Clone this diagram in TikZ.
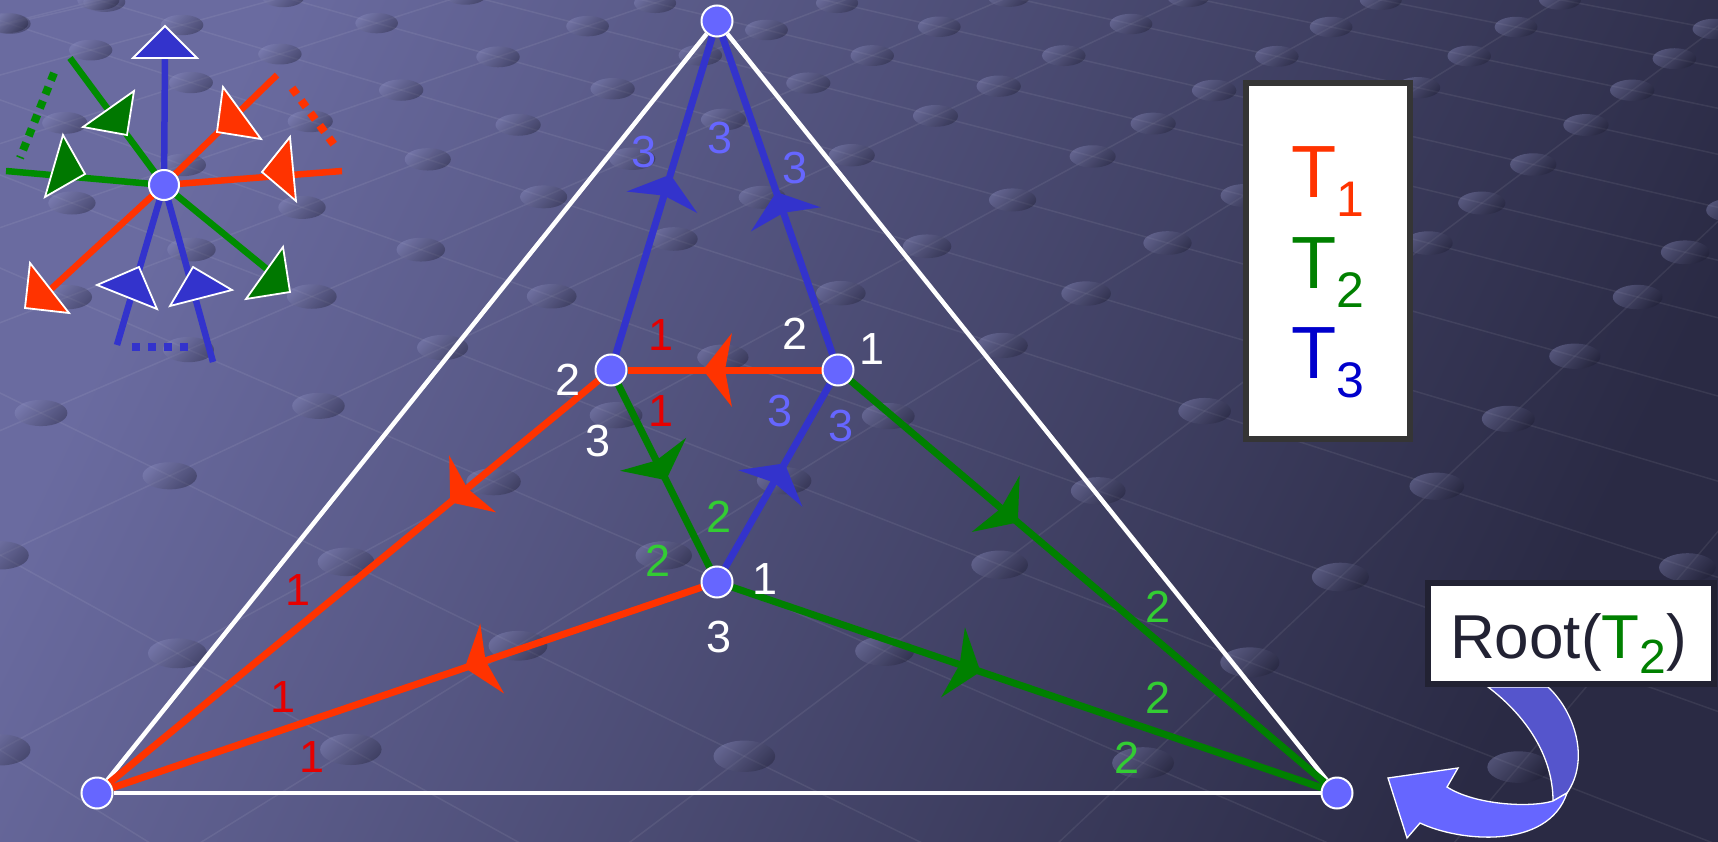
\documentclass[tikz,border=0pt]{standalone}
\usepackage{fontspec}
\setmainfont{Liberation Sans}
\usetikzlibrary{arrows.meta,decorations.markings,calc}
\pgfdeclarelayer{bglayer}
\pgfdeclarelayer{edgelayer}
\pgfsetlayers{bglayer,edgelayer,main}
\definecolor{bgTop}{RGB}{106,107,160}
\definecolor{bgBot}{RGB}{42,42,68}
\definecolor{tred}{HTML}{FF3300}
\definecolor{tgreen}{HTML}{008000}
\definecolor{tblue}{HTML}{3333CC}
\definecolor{nodeblue}{HTML}{6666FF}
\definecolor{lblred}{HTML}{E60000}
\definecolor{lblgreen}{HTML}{33CC33}
\definecolor{lblblue}{HTML}{6666FF}
\definecolor{legblue}{HTML}{0000CC}
\definecolor{sgreen}{HTML}{008C00}
\definecolor{striang}{HTML}{007800}
\definecolor{rootdark}{HTML}{222233}
\definecolor{legborder}{HTML}{353535}
\definecolor{arrowback}{HTML}{5555CC}
\definecolor{arrowfront}{HTML}{6666FF}
\definecolor{dotlight}{HTML}{8E90C2}
\definecolor{dotdark}{HTML}{1C1C30}
\begin{document}
\begin{tikzpicture}[x=1pt,y=-1pt,
  vtx/.style={circle,fill=nodeblue,draw=white,line width=2pt,minimum size=31pt,inner sep=0pt},
  tri/.style={draw=white,line width=1.8pt,line join=miter},
  trline/.style={line width=7pt},
  wline/.style={draw=white,line width=4.5pt},
  midarrow/.style={postaction={decorate},decoration={markings,mark=at position #1 with {\fill (0,0) -- (-29,37) -- (-22,0) -- (-29,-37) -- cycle;}}},
  lbl/.style={font=\fontsize{45}{45}\selectfont,inner sep=0pt},
  gridln/.style={draw=white,draw opacity=0.07,line width=1.5pt},
  dotsh/.style={opacity=0.38,top color=dotlight,bottom color=dotdark,shading angle=45},
  starln/.style={line width=6.5pt},
  sqline/.style={line width=8pt},
]
\useasboundingbox (0,0) rectangle (1718,842);

% ---------- background ----------
\begin{pgfonlayer}{bglayer}
\shade[top color=bgTop,bottom color=bgBot,shading angle=64] (0,0) rectangle (1718,842);
\begin{scope}
\clip (0,0) rectangle (1718,842);
\foreach \px/\py/\s in {1714/29/0.19,1516/27/0.20,1331/27/0.21,1131/24/0.222,837/3/0.232,655/3/0.242,587/26/0.258,610/88/0.278,182/25/0.297,7/23/0.324,65/123/0.356,72/203/0.39,67/297/0.433,41/413/0.488,0/555/0.554,0/750/0.62}{
  \draw[gridln] (-150,{\py+\s*(-150-\px)}) -- (1870,{\py+\s*(1870-\px)});
}
\foreach \px/\py/\s in {-70/42/-0.23,7/23/-0.25,182/25/-0.275,277/55/-0.32,655/3/-0.343,837/3/-0.382,941/26/-0.43,1131/24/-0.47,1331/27/-0.543,1516/27/-0.62,1714/29/-0.75,1143/763/-0.942,1687/568/-1.18}{
  \draw[gridln] (-250,{\py+\s*(-250-\px)}) -- (1950,{\py+\s*(1950-\px)});
}
\foreach \ax/\ay/\as in {1714/29/0.19,1516/27/0.20,1331/27/0.21,1131/24/0.222,837/3/0.232,655/3/0.242,587/26/0.258,610/88/0.278,182/25/0.297,7/23/0.324,65/123/0.356,72/203/0.39,67/297/0.433,41/413/0.488,0/555/0.554,0/750/0.62}{
 \foreach \bx/\by/\bs in {-70/42/-0.23,7/23/-0.25,182/25/-0.275,277/55/-0.32,655/3/-0.343,837/3/-0.382,941/26/-0.43,1131/24/-0.47,1331/27/-0.543,1516/27/-0.62,1714/29/-0.75,1143/763/-0.942,1687/568/-1.18}{
  \pgfmathsetmacro\dx{(\by-\ay+\as*\ax-\bs*\bx)/(\as-\bs)}
  \pgfmathsetmacro\dy{\ay+\as*(\dx-\ax)}
  \pgfmathtruncatemacro\ok{((\dx>-70)&&(\dx<1790)&&(\dy>-40)&&(\dy<890))?1:0}
  \ifnum\ok=1
   \pgfmathsetmacro\rx{21+0.013*abs(\dy)}
   \pgfmathsetmacro\ry{10+0.0075*abs(\dy)}
   \shade[dotsh] (\dx,\dy) ellipse [x radius=\rx pt, y radius=\ry pt];
  \fi
 }
}
\end{scope}
\end{pgfonlayer}

% ---------- nodes ----------
\node[vtx] (top) at (717,21) {};
\node[vtx] (bl) at (97,793) {};
\node[vtx] (br) at (1337,793) {};
\node[vtx] (il) at (611,370) {};
\node[vtx] (ir) at (838,370) {};
\node[vtx] (ib) at (717,582) {};
\node[vtx,minimum size=30pt] (S) at (164,185) {};

% ---------- star coordinates ----------
\coordinate (sU) at (165,58);
\coordinate (sGUL) at (70,58);
\coordinate (sGL) at (6,171);
\coordinate (sGLR) at (268,270);
\coordinate (sRUR) at (277,75);
\coordinate (sRR) at (342,171);
\coordinate (sRLL) at (50,290);
\coordinate (sBL) at (117,345);
\coordinate (sBR) at (213,362);

\begin{pgfonlayer}{edgelayer}
% white triangle
\draw[wline] (bl) -- (top);
\draw[wline] (top) -- (br);
\draw[wline] (br) -- (bl);
% coloured edges
\draw[trline,tblue,midarrow=0.566] (il) -- (top);
\draw[trline,tblue,midarrow=0.511] (ir) -- (top);
\draw[trline,tred,midarrow=0.611] (ir) -- (il);
\draw[trline,tgreen,midarrow=0.523] (il) -- (ib);
\draw[trline,tblue,midarrow=0.569] (ib) -- (ir);
\draw[trline,tred,midarrow=0.303] (il) -- (bl);
\draw[trline,tred,midarrow=0.402] (ib) -- (bl);
\draw[trline,tgreen,midarrow=0.353] (ir) -- (br);
\draw[trline,tgreen,midarrow=0.421] (ib) -- (br);
% star
\draw[starln,tblue] (S) -- (sU);
\draw[starln,sgreen] (S) -- (sGUL);
\draw[starln,sgreen] (S) -- (sGL);
\draw[starln,sgreen] (S) -- (sGLR);
\draw[starln,tred] (S) -- (sRUR);
\draw[starln,tred] (S) -- (sRR);
\draw[starln,tred] (S) -- (sRLL);
\draw[starln,tblue] (S) -- (sBL);
\draw[starln,tblue] (S) -- (sBR);
\draw[sqline,sgreen,dash pattern=on 8pt off 7pt] (54,73) -- (20,158);
\draw[sqline,tred,dash pattern=on 8pt off 7.5pt] (292,88) -- (338,150);
\draw[sqline,tblue,dash pattern=on 8pt off 8pt] (132,347) -- (192,347);
\filldraw[tri,fill=tblue] (133,58) -- (197,58) -- (165,26) -- cycle;
\filldraw[tri,fill=striang] (83,127) -- (134,91) -- (127,135) -- cycle;
\filldraw[tri,fill=striang] (63,135) -- (85,174) -- (45,197) -- cycle;
\filldraw[tri,fill=striang] (283,247) -- (290,292) -- (246,299) -- cycle;
\filldraw[tri,fill=tred] (223,87) -- (261,139) -- (217,132) -- cycle;
\filldraw[tri,fill=tred] (290,137) -- (296,201) -- (262,172) -- cycle;
\filldraw[tri,fill=tred] (30,263) -- (69,313) -- (25,308) -- cycle;
\filldraw[tri,fill=tblue] (97,285) -- (139,267) -- (157,309) -- cycle;
\filldraw[tri,fill=tblue] (170,306) -- (193,267) -- (232,290) -- cycle;
\end{pgfonlayer}

% ---------- edge labels ----------
\node[lbl,text=lblblue] (b1) at (644,152.5) {3};
\node[lbl,text=lblblue] (b2) at (720,138) {3};
\node[lbl,text=lblblue] (b3) at (795.5,168.5) {3};
\node[lbl,text=lblblue] (b4) at (780,411) {3};
\node[lbl,text=lblblue] (b5) at (841,426) {3};
\node[lbl,text=lblred] (r1) at (661,335) {1};
\node[lbl,text=lblred] (r2) at (661,411) {1};
\node[lbl,text=lblred] (r3) at (298.5,590.5) {1};
\node[lbl,text=lblred] (r4) at (283,697.5) {1};
\node[lbl,text=lblred] (r5) at (312,757.5) {1};
\node[lbl,text=white] (w1) at (568,380) {2};
\node[lbl,text=white] (w2) at (795,334) {2};
\node[lbl,text=white] (w3) at (872,349) {1};
\node[lbl,text=white] (w4) at (598,441) {3};
\node[lbl,text=white] (w5) at (765.5,579) {1};
\node[lbl,text=white] (w6) at (719,637.5) {3};
\node[lbl,text=lblgreen] (g1) at (719.5,517) {2};
\node[lbl,text=lblgreen] (g2) at (658.5,561) {2};
\node[lbl,text=lblgreen] (g3) at (1157.7,607) {2};
\node[lbl,text=lblgreen] (g4) at (1157.7,698) {2};
\node[lbl,text=lblgreen] (g5) at (1127,758) {2};

% ---------- legend ----------
\node[draw=legborder,line width=6pt,fill=white,minimum width=164pt,minimum height=356pt,inner sep=0pt] (leg) at (1328,261) {};
\node[anchor=base west,inner sep=0pt,text=tred,font=\fontsize{74}{74}\selectfont] (t1) at (1291,198) {T\raisebox{-19pt}{\fontsize{50}{50}\selectfont 1}};
\node[anchor=base west,inner sep=0pt,text=tgreen,font=\fontsize{74}{74}\selectfont] (t2) at (1291,288) {T\raisebox{-19pt}{\fontsize{50}{50}\selectfont 2}};
\node[anchor=base west,inner sep=0pt,text=legblue,font=\fontsize{74}{74}\selectfont] (t3) at (1291,378) {T\raisebox{-19pt}{\fontsize{50}{50}\selectfont 3}};

% ---------- curved arrow ----------
\filldraw[fill=arrowback,draw=white,line width=1.3pt] (1488,687) .. controls (1525,715) and (1553,755) .. (1553,801) -- (1567,793) .. controls (1590,760) and (1575,712) .. (1548,687) -- cycle;
\filldraw[fill=arrowfront,draw=white,line width=1.3pt,line join=miter] (1553,801) .. controls (1530,808) and (1475,805) .. (1447,787) -- (1458,768) -- (1388,778) -- (1407,838) -- (1420,823) .. controls (1460,842) and (1548,850) .. (1567,793) -- cycle;

% ---------- root box ----------
\node[draw=rootdark,line width=6pt,fill=white,minimum width=286pt,minimum height=101pt,inner sep=0pt] (rootbox) at (1571,633.5) {};
\node[anchor=base west,inner sep=0pt,text=rootdark,font=\fontsize{62}{62}\selectfont] (roottxt) at (1450,658) {Root(\textcolor{tgreen}{T\raisebox{-15pt}{\fontsize{48}{48}\selectfont 2}})};
\end{tikzpicture}
\end{document}
